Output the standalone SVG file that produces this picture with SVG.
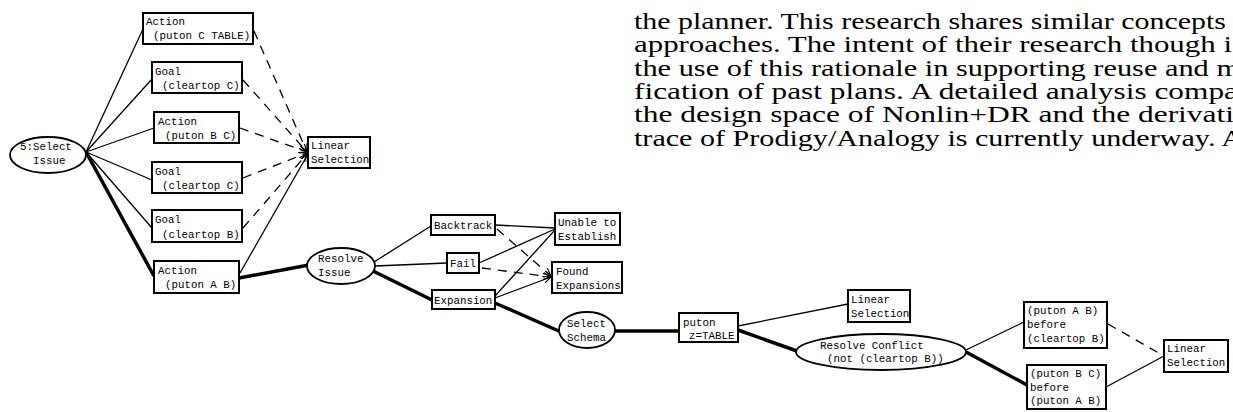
<svg xmlns="http://www.w3.org/2000/svg" width="1233" height="412" viewBox="0 0 1233 412">
<style>
.box{fill:#fff;stroke:#000;stroke-width:2}
.ell{fill:#fff;stroke:#000;stroke-width:1.8}
.t{font-family:"Liberation Mono","DejaVu Sans Mono",monospace;font-size:10.8px;fill:#000}
.c{stroke:#000;stroke-width:1.3;fill:none}
.k{stroke:#000;stroke-width:3.5;fill:none}
.d{stroke:#000;stroke-width:1.3;fill:none;stroke-dasharray:9 7}
.p{font-family:"Liberation Serif","Times New Roman",serif;font-size:22.5px;fill:#000}
</style>
<defs>
<marker id="arr" markerUnits="userSpaceOnUse" markerWidth="9" markerHeight="8" refX="8" refY="4" orient="auto">
<path d="M0,0.5 L8,4 L0,7.5" fill="none" stroke="#000" stroke-width="1.2"/>
</marker>
</defs>
<rect width="1233" height="412" fill="#fff"/>
<g id="paragraph">
<text class="p" x="634" y="29" textLength="592" lengthAdjust="spacingAndGlyphs">the planner. This research shares similar concepts</text>
<text class="p" x="634" y="52" textLength="598" lengthAdjust="spacingAndGlyphs">approaches. The intent of their research though i</text>
<text class="p" x="634" y="76" textLength="606" lengthAdjust="spacingAndGlyphs">the use of this rationale in supporting reuse and m</text>
<text class="p" x="634" y="99" textLength="604" lengthAdjust="spacingAndGlyphs">fication of past plans. A detailed analysis compa</text>
<text class="p" x="634" y="122" textLength="600" lengthAdjust="spacingAndGlyphs">the design space of Nonlin+DR and the derivati</text>
<text class="p" x="634" y="146" textLength="609" lengthAdjust="spacingAndGlyphs">trace of Prodigy/Analogy is currently underway. A</text>
</g>
<g id="connectors">
<line class="c" x1="86" y1="152" x2="143" y2="29"/>
<line class="c" x1="86" y1="152" x2="152" y2="79"/>
<line class="c" x1="86" y1="152" x2="154" y2="128"/>
<line class="c" x1="86" y1="152" x2="152" y2="180"/>
<line class="c" x1="86" y1="152" x2="152" y2="228"/>
<line class="k" x1="86" y1="152" x2="154" y2="276"/>
<line class="d" x1="254" y1="31" x2="307" y2="152" marker-end="url(#arr)"/>
<line class="d" x1="243" y1="80" x2="307" y2="152" marker-end="url(#arr)"/>
<line class="d" x1="240" y1="128" x2="307" y2="152" marker-end="url(#arr)"/>
<line class="d" x1="243" y1="178" x2="307" y2="153" marker-end="url(#arr)"/>
<line class="d" x1="243" y1="228" x2="307" y2="154" marker-end="url(#arr)"/>
<line class="c" x1="240" y1="273" x2="308" y2="154" marker-end="url(#arr)"/>
<line class="k" x1="239" y1="278" x2="309" y2="265"/>
<line class="c" x1="374" y1="262" x2="431" y2="226"/>
<line class="c" x1="375" y1="266" x2="447" y2="263"/>
<line class="k" x1="373" y1="271" x2="432" y2="300"/>
<line class="c" x1="495" y1="225" x2="555" y2="228"/>
<line class="c" x1="479" y1="263" x2="555" y2="229"/>
<line class="c" x1="495" y1="296" x2="555" y2="230"/>
<line class="c" x1="495" y1="298" x2="551" y2="277" marker-end="url(#arr)"/>
<line class="d" x1="497" y1="229" x2="551" y2="276" marker-end="url(#arr)"/>
<line class="d" x1="482" y1="268" x2="551" y2="277" marker-end="url(#arr)"/>
<line class="k" x1="495" y1="303" x2="561" y2="332"/>
<line class="k" x1="615" y1="331" x2="679" y2="331"/>
<line class="c" x1="738" y1="326" x2="848" y2="304"/>
<line class="k" x1="738" y1="330" x2="797" y2="351"/>
<line class="c" x1="966" y1="350" x2="1024" y2="322"/>
<line class="k" x1="966" y1="352" x2="1027" y2="385"/>
<line class="d" x1="1108" y1="324" x2="1164" y2="356"/>
<line class="c" x1="1106" y1="387" x2="1164" y2="356"/>
</g>
<g id="select-issue">
<ellipse class="ell" cx="48" cy="155" rx="38" ry="18"/>
<text class="t" x="20" y="150">5:Select</text>
<text class="t" x="33" y="164">Issue</text>
</g>
<g id="action-puton-c-table">
<rect class="box" x="143" y="13" width="110" height="31"/>
<text class="t" x="146" y="25">Action</text>
<text class="t" x="153" y="39">(puton C TABLE)</text>
</g>
<g id="goal-cleartop-c-1">
<rect class="box" x="152" y="62" width="90" height="31"/>
<text class="t" x="155" y="75">Goal</text>
<text class="t" x="162" y="89">(cleartop C)</text>
</g>
<g id="action-puton-b-c">
<rect class="box" x="154" y="112" width="85" height="31"/>
<text class="t" x="158" y="125">Action</text>
<text class="t" x="165" y="139">(puton B C)</text>
</g>
<g id="goal-cleartop-c-2">
<rect class="box" x="152" y="162" width="90" height="31"/>
<text class="t" x="155" y="175">Goal</text>
<text class="t" x="162" y="189">(cleartop C)</text>
</g>
<g id="goal-cleartop-b">
<rect class="box" x="152" y="210" width="90" height="32"/>
<text class="t" x="155" y="223">Goal</text>
<text class="t" x="162" y="238">(cleartop B)</text>
</g>
<g id="action-puton-a-b">
<rect class="box" x="154" y="261" width="85" height="32"/>
<text class="t" x="158" y="274">Action</text>
<text class="t" x="165" y="288">(puton A B)</text>
</g>
<g id="linear-selection-1">
<rect class="box" x="308" y="137" width="62" height="31"/>
<text class="t" x="311" y="149">Linear</text>
<text class="t" x="311" y="163">Selection</text>
</g>
<g id="resolve-issue">
<ellipse class="ell" cx="341" cy="266" rx="34" ry="18"/>
<text class="t" x="318" y="262">Resolve</text>
<text class="t" x="318" y="276">Issue</text>
</g>
<g id="backtrack">
<rect class="box" x="431" y="215" width="64" height="20"/>
<text class="t" x="434" y="229">Backtrack</text>
</g>
<g id="fail">
<rect class="box" x="447" y="253" width="32" height="20"/>
<text class="t" x="450" y="267">Fail</text>
</g>
<g id="expansion">
<rect class="box" x="432" y="290" width="63" height="19"/>
<text class="t" x="434" y="304">Expansion</text>
</g>
<g id="unable-to-establish">
<rect class="box" x="555" y="213" width="65" height="32"/>
<text class="t" x="558" y="226">Unable to</text>
<text class="t" x="558" y="240">Establish</text>
</g>
<g id="found-expansions">
<rect class="box" x="552" y="262" width="70" height="31"/>
<text class="t" x="556" y="275">Found</text>
<text class="t" x="556" y="289">Expansions</text>
</g>
<g id="select-schema">
<ellipse class="ell" cx="587" cy="330" rx="28" ry="18"/>
<text class="t" x="567" y="327">Select</text>
<text class="t" x="567" y="341">Schema</text>
</g>
<g id="puton-z-table">
<rect class="box" x="679" y="313" width="59" height="29"/>
<text class="t" x="683" y="326">puton</text>
<text class="t" x="689" y="339">z=TABLE</text>
</g>
<g id="linear-selection-2">
<rect class="box" x="848" y="290" width="62" height="32"/>
<text class="t" x="851" y="303">Linear</text>
<text class="t" x="851" y="317">Selection</text>
</g>
<g id="resolve-conflict">
<ellipse class="ell" cx="881" cy="352" rx="85" ry="18"/>
<text class="t" x="820" y="349">Resolve Conflict</text>
<text class="t" x="827" y="362">(not (cleartop B))</text>
</g>
<g id="puton-ab-before-cleartop-b">
<rect class="box" x="1024" y="302" width="83" height="46"/>
<text class="t" x="1027" y="314">(puton A B)</text>
<text class="t" x="1027" y="328">before</text>
<text class="t" x="1027" y="342">(cleartop B)</text>
</g>
<g id="puton-bc-before-puton-ab">
<rect class="box" x="1027" y="365" width="79" height="44"/>
<text class="t" x="1030" y="377">(puton B C)</text>
<text class="t" x="1030" y="391">before</text>
<text class="t" x="1030" y="404">(puton A B)</text>
</g>
<g id="linear-selection-3">
<rect class="box" x="1164" y="340" width="64" height="32"/>
<text class="t" x="1167" y="352">Linear</text>
<text class="t" x="1167" y="366">Selection</text>
</g>
</svg>
